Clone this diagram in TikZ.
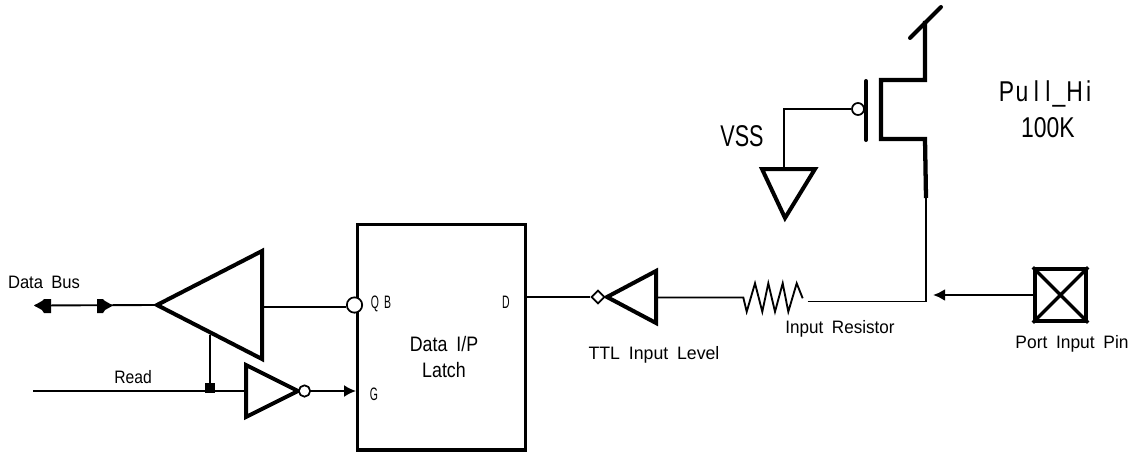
\documentclass[tikz,border=0pt]{standalone}
\usepackage{fontspec}
\setmainfont{Liberation Sans}[WordSpace=1.8]
\usetikzlibrary{arrows.meta,shapes.geometric}
\tikzset{
  thin wire/.style={line width=1.4pt,black},
  gate/.style={line width=3pt,black,line join=miter},
  bub/.style={circle,draw=black,line width=1.3pt,fill=white,inner sep=0pt},
  lab/.style={inner sep=0pt,font=\fontsize{13.5pt}{16pt}\selectfont,xscale=.87},
  pinlab/.style={inner sep=0pt,font=\fontsize{13.5pt}{16pt}\selectfont,xscale=.58},
  latchtext/.style={inner sep=0pt,align=center,font=\fontsize{15.7pt}{20.2pt}\selectfont,xscale=.85},
  biglab/.style={inner sep=0pt,font=\fontsize{21.5pt}{24pt}\selectfont,xscale=.8},
  headtip/.style={-{Latex[length=9pt,width=9pt]}},
}
\begin{document}
\begin{tikzpicture}[x=0.75pt,y=-0.75pt]
\useasboundingbox (0,0) rectangle (1134,453);
% latch
\node[draw=black,line width=2.6pt,minimum width=126pt,minimum height=169pt,inner sep=0pt,anchor=north west] (latch) at (356,223) {};
\node[latchtext] (latchlab) at (444,357) {Data I/P\\Latch};
\node[pinlab] (qb) at (381,304) {Q B};
\node[pinlab] (g) at (374,394) {G};
\node[pinlab] (d) at (506,302) {D};
% buffer
\coordinate (btip) at (157,305);
\coordinate (btop) at (262,251);
\coordinate (bbot) at (262,359);
\draw[gate] (btip) -- (btop) -- (bbot) -- cycle;
\coordinate (busl) at (35,305.5);
\draw[thin wire] (busl) -- (btip);
\fill (34,305.5) -- (42,301) -- (44,299) -- (51,299) -- (51,313) -- (44,313) -- (42,310) -- cycle;
\fill (113,305.5) -- (105,301) -- (103,299) -- (97,299) -- (97,313) -- (103,313) -- (105,310) -- cycle;
\node[lab,xscale=1.06] (databus) at (44,282) {Data Bus};
\node[bub,minimum size=11.5pt] (qbub) at (354.5,305) {};
\draw[thin wire] (262,307) -- (qbub.west |- 0,307);
% read
\coordinate (readl) at (33,391);
\coordinate (i1l) at (246,391);
\draw[thin wire] (readl) -- (i1l);
\node[lab] (read) at (133,377) {Read};
\coordinate (rtap) at (210,335);
\fill (204.5,383) rectangle (215,393);
\coordinate (rj) at (210,391);
\draw[thin wire] (rtap) -- (rj);
% inverter 1
\coordinate (i1t) at (246,365);
\coordinate (i1b) at (246,417);
\coordinate (i1tip) at (298,391);
\draw[gate] (i1t) -- (i1tip) -- (i1b) -- cycle;
\node[bub,minimum size=8.5pt] (i1bub) at (304.5,391) {};
\draw[thin wire,headtip] (i1bub) -- (i1bub -| latch.west);
% inverter 2
\coordinate (i2tip) at (607,297);
\coordinate (i2t) at (656,271);
\coordinate (i2b) at (656,323);
\draw[gate] (i2tip) -- (i2t) -- (i2b) -- cycle;
\node[diamond,draw=black,line width=1.3pt,fill=white,inner sep=0pt,minimum size=10pt] (i2bub) at (598,297) {};
\draw[thin wire] (525,297) -- (i2bub);
% resistor
\coordinate (r1) at (743.3,297.5);
\coordinate (r2) at (802.7,298.3);
\draw[thin wire] (i2t |- r1) -- (r1)
  -- (746.7,311.7) -- (755,283.3) -- (762.3,311.7) -- (768.3,283.3) -- (775,311.7) -- (782.7,283.3) -- (788.3,311.7) -- (796.7,283.3) -- (r2);
\coordinate (rend) at (926,301.5);
\coordinate (rstart) at (807.7,301.5);
\draw[thin wire,line join=miter] (rstart) -- (rend) -- (926,197);
\node[lab,xscale=1.09] (inres) at (840,329) {Input Resistor};
\node[lab,xscale=1.13] (ttl) at (654,355) {TTL Input Level};
% mosfet
\coordinate (gnd1) at (762,169);
\coordinate (gnd2) at (815,169);
\coordinate (gnd3) at (785,218);
\draw[gate] (gnd1) -- (gnd2) -- (gnd3) -- cycle;
\node[bub,minimum size=9pt] (gbub) at (858,109) {};
\draw[thin wire,line join=miter] (gbub) -- (784,109) -- (784,169);
\draw[line width=3pt,line cap=round] (866,81) -- (866,140);
\draw[gate,line width=3.2pt] (926,198) -- (925,139) -- (881,139) -- (881,80) -- (925,80) -- (925,21);
\draw[line width=3pt,line cap=round] (910,38) -- (941,7);
\node[inner sep=0pt,font=\fontsize{22.5pt}{24pt}\selectfont,xscale=.72] (vss) at (742,136) {VSS};
\node[biglab] (pull) at (1045,94) {P\hspace{1.5pt}u\hspace{5pt}l\hspace{6pt}l\hspace{2pt}\_\hspace{1pt}H\hspace{3pt}i};
\node[biglab] (hundred) at (1048,128) {100K};
% pin
\node[draw=black,line width=3pt,minimum size=38.5pt,inner sep=0pt] (pin) at (1060.5,295) {};
\draw[line width=2.6pt] (pin.north west) -- (pin.south east) (pin.north east) -- (pin.south west);
\draw[line width=2pt,headtip] (pin.west) -- (933,295);
\node[lab,xscale=1.11] (portlab) at (1072,344) {Port Input Pin};
\end{tikzpicture}
\end{document}
